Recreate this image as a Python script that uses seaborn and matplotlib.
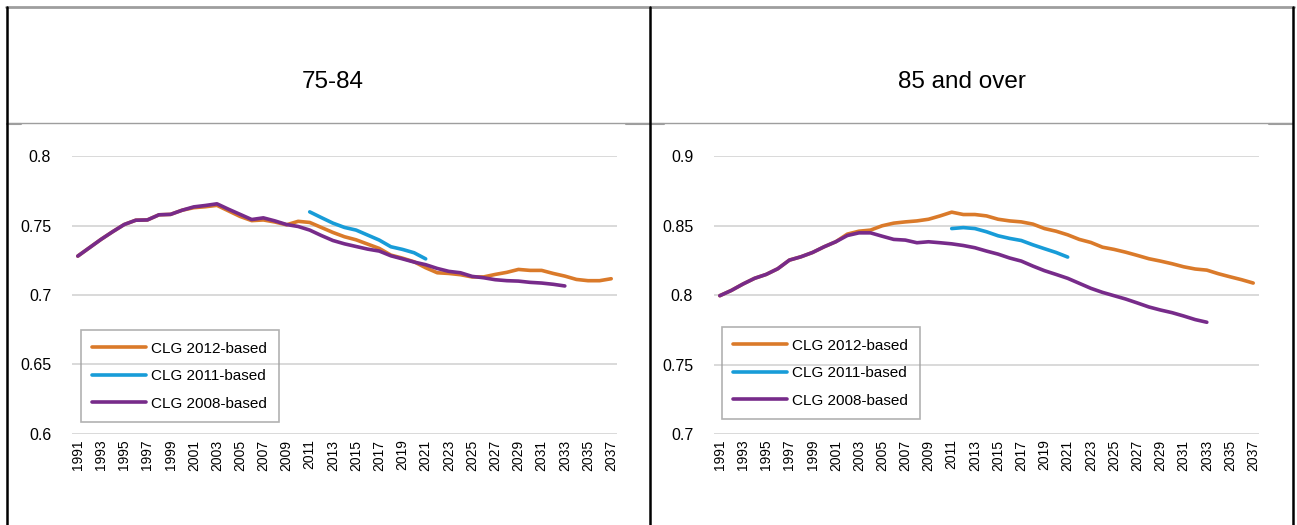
import numpy as np
import pandas as pd
import seaborn as sns
import matplotlib.pyplot as plt
from matplotlib.lines import Line2D

# years on the category axis
years = list(range(1991, 2038))
tick_years = list(range(1991, 2038, 2))

series_names = ["CLG 2012-based", "CLG 2011-based", "CLG 2008-based"]
series_start = [1991, 2011, 1991]

# 75-84 panel
young_2012 = [0.728, 0.734, 0.740, 0.7455, 0.7507, 0.7538, 0.754, 0.7577, 0.758, 0.761,
              0.7628, 0.7635, 0.7645, 0.7605, 0.7565, 0.7535, 0.754, 0.7525, 0.7505, 0.753,
              0.7522, 0.7486, 0.745, 0.7419, 0.7397, 0.7366, 0.7335, 0.7287, 0.7265, 0.7239,
              0.7196, 0.716, 0.7155, 0.7146, 0.713, 0.713, 0.7148, 0.7163, 0.7184, 0.7177,
              0.7177, 0.7155, 0.7136, 0.7112, 0.7103, 0.7103, 0.7117]
young_2011 = [0.7598, 0.7557, 0.7517, 0.7486, 0.7467, 0.7431, 0.7395, 0.7347, 0.7328, 0.7304, 0.726]
young_2008 = [0.728, 0.734, 0.740, 0.7455, 0.7507, 0.7538, 0.754, 0.7577, 0.758, 0.761,
              0.7634, 0.7644, 0.7656, 0.7617, 0.758, 0.7543, 0.7555, 0.7533, 0.7507, 0.7493,
              0.7467, 0.7428, 0.7392, 0.7368, 0.7349, 0.733, 0.7316, 0.7282, 0.726, 0.7237,
              0.7218, 0.7191, 0.717, 0.716, 0.7134, 0.7124, 0.711, 0.7103, 0.71, 0.7091,
              0.7086, 0.7077, 0.7065]

# 85 and over panel
old_2012 = [0.7995, 0.8033, 0.8079, 0.812, 0.8148, 0.8189, 0.8251, 0.8275, 0.8306, 0.8347,
            0.8383, 0.8438, 0.8459, 0.8467, 0.8498, 0.8517, 0.8526, 0.8533, 0.8545, 0.8569,
            0.8596, 0.8579, 0.8579, 0.8569, 0.8545, 0.8533, 0.8526, 0.851, 0.8478, 0.8459,
            0.8433, 0.84, 0.8378, 0.8344, 0.8328, 0.8308, 0.8285, 0.8261, 0.8244, 0.8225,
            0.8203, 0.8187, 0.8179, 0.8153, 0.8131, 0.811, 0.8086]
old_2011 = [0.8478, 0.8485, 0.8478, 0.8455, 0.8426, 0.8407, 0.8392, 0.8361, 0.8333, 0.8306, 0.8273]
old_2008 = [0.7995, 0.8033, 0.8079, 0.812, 0.8148, 0.8189, 0.8251, 0.8275, 0.8306, 0.8347,
            0.8383, 0.8428, 0.8447, 0.8447, 0.8423, 0.84, 0.8395, 0.8376, 0.8383, 0.8376,
            0.8368, 0.8356, 0.834, 0.8316, 0.8294, 0.8266, 0.8244, 0.8208, 0.8175, 0.8148,
            0.812, 0.8084, 0.8048, 0.8019, 0.7995, 0.7971, 0.7943, 0.7914, 0.7892, 0.7873,
            0.7849, 0.7823, 0.7804]

panel_titles = ["75-84", "85 and over"]
panel_ticks = [[0.6, 0.65, 0.7, 0.75, 0.8], [0.7, 0.75, 0.8, 0.85, 0.9]]
panel_ticklabels = [["0.6", "0.65", "0.7", "0.75", "0.8"], ["0.7", "0.75", "0.8", "0.85", "0.9"]]

colors = ["#DA7A2A", "#189CD8", "#772B8A"]
GRID = "#D9D9D9"
BORDER = "#9E9E9E"


def to_long(vals_list):
    frames = []
    for name, start, vals in zip(series_names, series_start, vals_list):
        frames.append(pd.DataFrame({"year": range(start, start + len(vals)),
                                    "value": vals, "series": name}))
    return pd.concat(frames, ignore_index=True)


sns.set_style("white")
plt.rcParams["font.family"] = ["Liberation Sans", "DejaVu Sans"]
plt.rcParams["text.color"] = "black"
plt.rcParams["xtick.color"] = "black"
plt.rcParams["ytick.color"] = "black"

fig = plt.figure(figsize=(12.97, 5.25), dpi=100)
W, H = 1297, 525

axes_px = [(72, 545), (714, 545)]
legend_anchor = [(0.0165, 0.043), (0.0147, 0.054)]
data = [to_long([young_2012, young_2011, young_2008]),
        to_long([old_2012, old_2011, old_2008])]

for i, (x0, w) in enumerate(axes_px):
    ax = fig.add_axes([x0 / W, 1 - 434 / H, w / W, 278 / H])
    sns.lineplot(data=data[i], x="year", y="value", hue="series",
                 hue_order=series_names, palette=colors, linewidth=2.6,
                 ax=ax, legend=False)
    ax.set_xlim(1990.5, 2037.5)
    ax.set_ylim(panel_ticks[i][0], panel_ticks[i][-1])
    ax.set_xticks(tick_years)
    ax.set_xticklabels([str(y) for y in tick_years], rotation=90, fontsize=10)
    ax.set_yticks(panel_ticks[i])
    ax.set_yticklabels(panel_ticklabels[i], fontsize=11.5)
    ax.tick_params(axis="y", length=0, pad=15)
    ax.tick_params(axis="x", length=0, pad=4)
    ax.yaxis.grid(True, color=GRID, linewidth=1.4)
    ax.set_axisbelow(True)
    for s in ax.spines.values():
        s.set_visible(False)
    ax.set_xlabel("")
    ax.set_ylabel("")
    ax.patch.set_alpha(0)
    handles = [Line2D([], [], color=c, linewidth=2.6) for c in colors]
    leg = ax.legend(handles, series_names, loc="lower left",
                    bbox_to_anchor=legend_anchor[i], borderaxespad=0,
                    fontsize=11, handlelength=3.5, handletextpad=0.35,
                    labelspacing=0.88, borderpad=0.75, fancybox=False,
                    frameon=True)
    leg.get_frame().set_edgecolor(BORDER)
    leg.get_frame().set_facecolor("none")
    leg.get_frame().set_linewidth(1.2)

# cell titles
fig.text(333 / W, 1 - 82 / H, panel_titles[0], ha="center", va="center", fontsize=17.5)
fig.text(962 / W, 1 - 82 / H, panel_titles[1], ha="center", va="center", fontsize=17.5)


def hline(x1, x2, y, color, lw):
    fig.add_artist(Line2D([x1 / W, x2 / W], [1 - y / H, 1 - y / H], color=color, linewidth=lw))


def vline(x, y1, y2, color, lw):
    fig.add_artist(Line2D([x / W, x / W], [1 - y1 / H, 1 - y2 / H], color=color, linewidth=lw))


# table-like frame around the two panels
hline(6, 1294, 7, BORDER, 2)
hline(7, 1293, 122.5, BORDER, 1)
hline(7, 21, 123.5, BORDER, 1.5)
hline(626, 664, 123.5, BORDER, 1.5)
hline(1269, 1293, 123.5, BORDER, 1.5)
vline(7, 7, 525, "black", 1.8)
vline(650, 7, 525, "black", 1.8)
vline(1293, 7, 525, "black", 1.8)

fig.savefig("out.png", dpi=100)
